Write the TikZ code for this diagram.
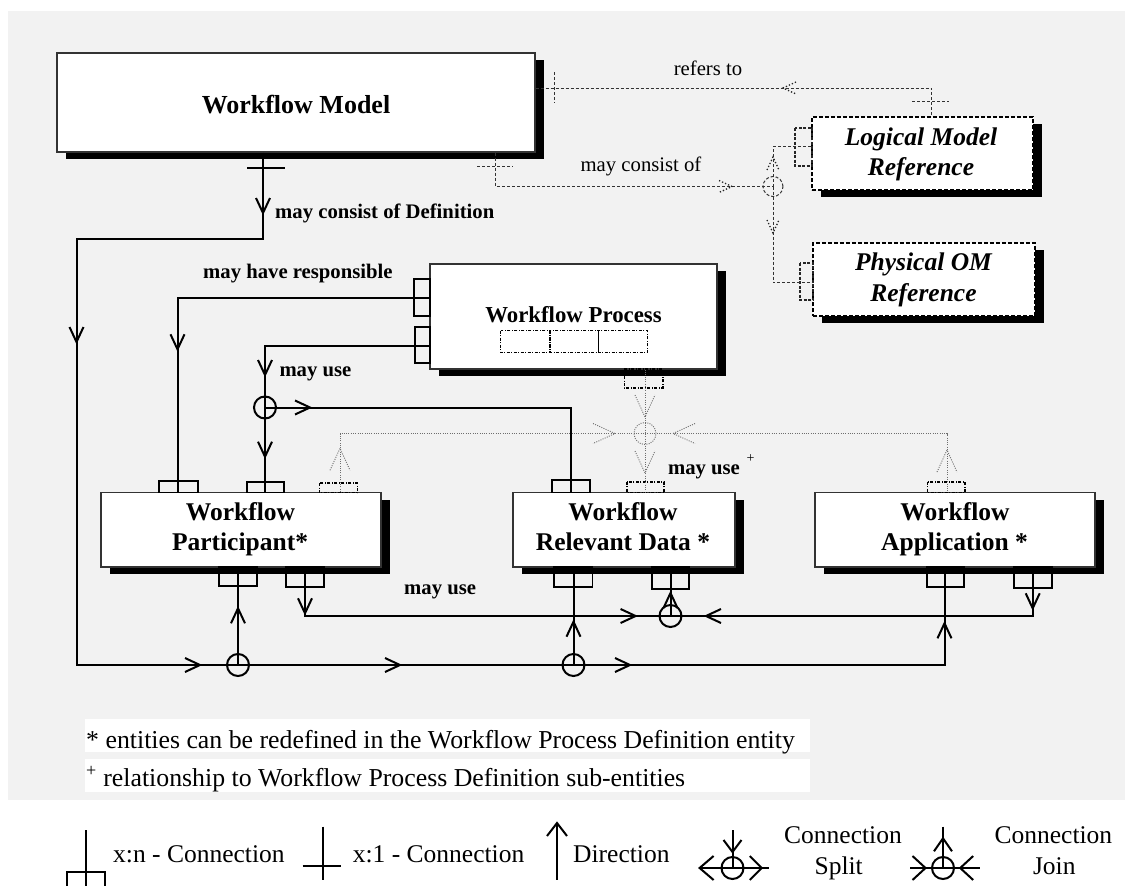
\documentclass[tikz,border=0pt]{standalone}
\usepackage{fontspec}
\setmainfont{Liberation Serif}
\usetikzlibrary{shadows}
\definecolor{bggray}{RGB}{242,242,242}
\definecolor{dotgray}{RGB}{110,110,110}
\begin{document}
\begin{tikzpicture}[x=1pt,y=-1pt,
  chw/.store in=\chw, chl/.store in=\chl, chw=7, chl=15,
  chevD/.pic={\draw[pic actions] (-\chw,-\chl) -- (0,0) -- (\chw,-\chl);},
  chevU/.pic={\draw[pic actions] (-\chw,\chl) -- (0,0) -- (\chw,\chl);},
  chevR/.pic={\draw[pic actions] (-\chl,-\chw) -- (0,0) -- (-\chl,\chw);},
  chevL/.pic={\draw[pic actions] (\chl,-\chw) -- (0,0) -- (\chl,\chw);},
  conn/.style={line width=2pt,color=black},
  ent/.style={rectangle,draw=black!80,line width=1.4pt,fill=white,inner sep=0pt,
     drop shadow={shadow xshift=9pt,shadow yshift=-7pt,fill=black,opacity=1}},
  dent/.style={ent,draw=black,line width=1.6pt,dash pattern=on 4pt off 2pt},
  port/.style={draw=black,line width=1.8pt},
  dport/.style={draw=black,line width=1.6pt,dash pattern=on 3pt off 1.5pt on 1pt off 1.5pt},
  dashport/.style={draw=black!85,line width=1.3pt,dash pattern=on 3pt off 1.5pt},
  dashc/.style={color=black!80,line width=1pt,dash pattern=on 3pt off 2pt},
  dashhead/.style={color=black!85,line width=1.3pt,dash pattern=on 1.3pt off 2pt,chw=6,chl=13},
  dotc/.style={color=dotgray,line width=0.9pt,dash pattern=on 1pt off 1.3pt},
  dothead/.style={dotc,chw=10,chl=22},
  jc/.style={circle,draw=black,line width=2pt,minimum size=22pt,inner sep=0pt},
  titleA/.style={font=\fontsize{26}{30}\selectfont\bfseries,inner sep=0pt,anchor=base},
  titleB/.style={font=\fontsize{22.8}{27}\selectfont\bfseries,inner sep=0pt,anchor=base},
  titleC/.style={font=\fontsize{25.5}{30}\selectfont\bfseries,inner sep=0pt,anchor=base},
  titleI/.style={font=\fontsize{25.5}{30}\selectfont\bfseries\itshape,inner sep=0pt,anchor=base},
  lblb/.style={font=\fontsize{20.7}{24}\selectfont\bfseries,inner sep=0pt,anchor=base west},
  lblr/.style={font=\fontsize{20.7}{24}\selectfont,inner sep=0pt,anchor=base},
  foot/.style={font=\fontsize{25.8}{30}\selectfont,inner sep=0pt,anchor=base west},
  leg/.style={font=\fontsize{25.5}{30}\selectfont,inner sep=0pt,anchor=base west},
  legc/.style={font=\fontsize{25.5}{30}\selectfont,inner sep=0pt,anchor=base}
]
\useasboundingbox (0,0) rectangle (1133,886);
\fill[white] (0,0) rectangle (1133,886);
\fill[bggray] (8,11) rectangle (1125,800);
\fill[white] (85,719) rectangle (810,752);
\fill[white] (85,759) rectangle (810,792);

% ---------- entities ----------
\node[ent,minimum width=478,minimum height=99] (wm) at (296,102.5) {};
\node[ent,minimum width=287,minimum height=105] (wp) at (573.5,316.5) {};
\node[ent,minimum width=280,minimum height=74.5] (part) at (241,529.75) {};
\node[ent,minimum width=222,minimum height=74.5] (rd) at (624,529.75) {};
\node[ent,minimum width=280,minimum height=74.5] (app) at (955,529.75) {};
\node[dent,minimum width=221,minimum height=73] (lm) at (922.5,153.5) {};
\node[dent,minimum width=222,minimum height=73] (pom) at (924,279.5) {};

% ---------- titles ----------
\node[titleA] (wmt) at (296,113) {Workflow Model};
\node[titleB] (wpt) at (573.5,322.7) {Workflow Process};
\node[titleC] (partt1) at (240.5,520) {Workflow};
\node[titleC] (partt2) at (240,550.7) {Participant*};
\node[titleC] (rdt1) at (623,520) {Workflow};
\node[titleC] (rdt2) at (623,550) {Relevant Data *};
\node[titleC] (appt1) at (955,520) {Workflow};
\node[titleC] (appt2) at (954.5,550.7) {Application *};
\node[titleI] (lmt1) at (921,145) {Logical Model};
\node[titleI] (lmt2) at (921,175) {Reference};
\node[titleI] (pomt1) at (923.5,270) {Physical OM};
\node[titleI] (pomt2) at (923.5,301.7) {Reference};

% sub-entities in Workflow Process
\draw[dport,line width=1.3pt] (500.7,330.7) rectangle (550,352.7);
\draw[dport,line width=1.3pt] (550,330.7) rectangle (598.7,352.7);
\draw[dport,line width=1.3pt] (598.7,330.7) rectangle (647.3,352.7);

% ---------- ports ----------
\draw[port] (414,279) rectangle (430,315.7);
\draw[port] (415,326.7) rectangle (430,363.3);
\draw[dport] (624.3,369) rectangle (662.7,388);
\draw[port] (159.3,481) rectangle (197.7,492.5);
\draw[port] (246.7,482) rectangle (284.3,492.5);
\draw[dport] (319.3,483) rectangle (357.3,492.5);
\draw[port] (552,480) rectangle (589.7,492.5);
\draw[dport] (626.8,481.7) rectangle (664,492.5);
\draw[dport] (927.3,481.7) rectangle (965,492.5);
\draw[port] (219,567) rectangle (256.7,586);
\draw[port] (286,567) rectangle (324.3,586.7);
\draw[port] (554,567) rectangle (592.4,586.7);
\draw[port] (651.7,567) rectangle (689.2,589.3);
\draw[port] (926.7,567) rectangle (964.3,586.7);
\draw[port] (1014,567) rectangle (1051.7,588.3);
\draw[dashport] (795,128) rectangle (812,166);
\draw[dashport] (800,263) rectangle (813,300);

% ---------- coordinates ----------
\coordinate (a1) at (263,239);
\coordinate (a2) at (76.5,239);
\coordinate (a3) at (76.5,665);
\coordinate (a4) at (944.5,665);
\coordinate (b1) at (177.5,298);
\coordinate (c1) at (265,346);
\coordinate (c2) at (570.5,407.5);
\coordinate (d1) at (305,616);
\coordinate (d2) at (1032.7,616);
\coordinate (e1) at (340,433.5);
\coordinate (e2) at (947,433.5);
\coordinate (r1) at (931.7,88);
\coordinate (m1) at (495.6,186.5);
\coordinate (m2) at (773,146.7);
\coordinate (m3) at (773,282.7);

% junction circles
\node[jc] (j1) at (238,665) {};
\node[jc] (j2) at (573.5,665) {};
\node[jc] (j3) at (265,407.5) {};
\node[jc] (j4) at (670.5,616) {};
\node[circle,draw=dotgray,line width=0.9pt,dash pattern=on 1pt off 1.3pt,minimum size=22pt,inner sep=0pt] (j5) at (645,433.5) {};
\node[circle,draw=black!80,line width=1pt,dash pattern=on 3pt off 2pt,minimum size=20pt,inner sep=0pt] (j6) at (773,186.5) {};

% ---------- solid connectors ----------
% may consist of Definition
\draw[conn] (a1 |- wm.south) -- (a1) -- (a2) -- (a3) -- (a4) -- (a4 |- app.south);
\draw[conn] (247,168) -- (285,168);
\draw[conn] (j1.center) -- (j1.center |- part.south);
\draw[conn] (j2.center) -- (j2.center |- rd.south);
\pic[conn] at (263,213) {chevD};
\pic[conn] at (76.5,342) {chevD};
\pic[conn] at (200,665) {chevR};
\pic[conn] at (400,665) {chevR};
\pic[conn] at (630,665) {chevR};
\pic[conn] at (944.5,623.3) {chevU};
\pic[conn] at (238,608.3) {chevU};
\pic[conn] at (573.5,621.7) {chevU};
% may have responsible
\draw[conn] (wp.west |- b1) -- (b1) -- (b1 |- part.north);
\pic[conn] at (177.5,349.3) {chevD};
% may use (top)
\draw[conn] (wp.west |- c1) -- (c1) -- (c1 |- part.north);
\draw[conn] (j3.center) -- (j3.center -| c2) -- (c2) -- (c2 |- rd.north);
\pic[conn] at (265,375) {chevD};
\pic[conn] at (265,456.7) {chevD};
\pic[conn] at (310,407.5) {chevR};
% may use (bottom)
\draw[conn] (d1 |- part.south) -- (d1) -- (d2) -- (d2 |- app.south);
\draw[conn] (j4.center) -- (j4.center |- rd.south);
\pic[conn] at (305,613.3) {chevD};
\pic[conn] at (1032.7,608.3) {chevD};
\pic[conn] at (635.6,616) {chevR};
\pic[conn] at (706,616) {chevL};
\pic[conn] at (670.5,593) {chevU};

% ---------- dotted connectors (may use +) ----------
\draw[dotc] (j5.center |- wp.south) -- (j5.center) -- (j5.center |- rd.north);
\draw[dotc] (e1 |- part.north) -- (e1) -- (e2) -- (e2 |- app.north);
\pic[dothead] at (645,417) {chevD};
\pic[dothead] at (645,473) {chevD};
\pic[dothead] at (340,448.3) {chevU};
\pic[dothead] at (947,450) {chevU};
\pic[dothead] at (615,433.5) {chevR};
\pic[dothead] at (673,433.5) {chevL};

% ---------- dashed connectors ----------
\draw[dashc] (wm.east |- r1) -- (r1) -- (r1 |- lm.north);
\draw[dashc] (554,72) -- (554,103);
\draw[dashc] (912,101.7) -- (949,101.7);
\pic[dashhead] at (783,88) {chevL};
\draw[dashc] (m1 |- wm.south) -- (m1) -- (j6.center);
\draw[dashc] (477,166) -- (513,166);
\pic[dashhead] at (732,186.5) {chevR};
\draw[dashc] (j6.center) -- (m2) -- (m2 -| lm.west);
\draw[dashc] (j6.center) -- (m3) -- (m3 -| pom.west);
\pic[dashhead] at (773,157) {chevU};
\pic[dashhead] at (773,233) {chevD};

% ---------- labels ----------
\node[lblr] (lref) at (708,75) {refers to};
\node[lblr] (lcons) at (641,171.7) {may consist of};
\node[lblb] (ldef) at (275,218) {may consist of Definition};
\node[lblb] (lresp) at (203,278.3) {may have responsible};
\node[lblb] (luse1) at (279.3,376.7) {may use};
\node[lblb] (luse2) at (667.8,474) {may use};
\node[font=\fontsize{14}{16}\selectfont,inner sep=0pt] (lplus) at (750.5,459) {+};
\node[lblb] (luse3) at (404,594.5) {may use};

% ---------- footnotes ----------
\node[foot] (f1) at (86,748) {* entities can be redefined in the Workflow Process Definition entity};
\node[foot] (f2) at (86,786) {\textsuperscript{+} relationship to Workflow Process Definition sub-entities};

% ---------- legend ----------
\draw[conn] (86,830) -- (86,886);
\draw[conn] (66.7,871.7) rectangle (105,895);
\node[leg] (lg1) at (113,862) {x:n - Connection};
\draw[conn] (322.7,826.7) -- (322.7,880);
\draw[conn] (302.7,865.7) -- (340.7,865.7);
\node[leg] (lg2) at (352.7,862) {x:1 - Connection};
\draw[conn] (557,823) -- (557,880);
\pic[conn,chw=10,chl=13] at (557,823) {chevU};
\node[leg] (lg3) at (573,862) {Direction};
% split
\node[jc] (ls) at (732.5,868) {};
\draw[conn] (732.5,830) -- (ls.center);
\draw[conn] (699.6,868) -- (769,868);
\pic[conn,chw=9,chl=12] at (732.5,852) {chevD};
\pic[conn,chw=12,chl=14] at (699.6,868) {chevL};
\pic[conn,chw=12,chl=12] at (761.8,868) {chevR};
\node[legc] (lg4) at (843,843.3) {Connection};
\node[legc] (lg5) at (838.7,874) {Split};
% join
\node[jc] (lj) at (943,868) {};
\draw[conn] (943,826.7) -- (lj.center);
\draw[conn] (910,868) -- (980.3,868);
\pic[conn,chw=9,chl=13] at (943,838.3) {chevU};
\pic[conn,chw=12,chl=13] at (925.5,868) {chevR};
\pic[conn,chw=12,chl=13] at (960.2,868) {chevL};
\node[legc] (lg6) at (1053.4,843.3) {Connection};
\node[legc] (lg7) at (1054.3,874) {Join};
\end{tikzpicture}
\end{document}
